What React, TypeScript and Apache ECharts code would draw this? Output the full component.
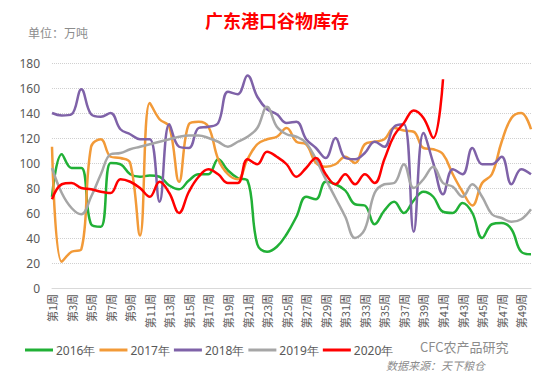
import React, { useEffect, useRef } from "react";
import * as echarts from "echarts";

const weeks: string[] = Array.from({ length: 50 }, (_, i) => `第${i + 1}周`);

const y2016 = [73, 107, 96, 96, 51, 49, 100, 99, 91, 89, 90, 89, 82, 79, 86, 91, 91, 103, 94, 88, 86, 35, 29, 33, 43, 57, 73, 71, 85, 83, 78, 67, 66, 51, 62, 69, 60, 70, 77, 73, 61, 60, 68, 60, 40, 51, 52, 47, 29, 27];
const y2017 = [113, 21, 29, 31, 113, 119, 105, 104, 100, 42, 148, 135, 129, 85, 131, 133, 129, 103, 91, 87, 103, 115, 119, 121, 128, 117, 115, 100, 97, 99, 105, 100, 115, 117, 119, 128, 126, 125, 112, 111, 107, 91, 77, 66, 84, 91, 117, 136, 140, 127];
const y2018 = [140, 138, 139, 159, 139, 137, 140, 127, 123, 119, 119, 69, 131, 113, 112, 128, 129, 132, 157, 155, 170, 153, 143, 139, 132, 133, 119, 112, 104, 120, 104, 103, 108, 117, 113, 129, 131, 45, 124, 100, 75, 95, 91, 112, 99, 99, 105, 83, 95, 91];
const y2019 = [96, 76, 64, 59, 73, 91, 107, 108, 111, 113, 115, 117, 119, 121, 122, 122, 120, 117, 113, 117, 121, 128, 145, 129, 123, 121, 116, 103, 87, 72, 57, 40, 47, 76, 83, 84, 99, 80, 87, 97, 84, 81, 73, 83, 73, 59, 56, 53, 55, 63];
const y2020 = [71, 83, 84, 80, 79, 77, 76, 87, 85, 80, 73, 85, 76, 60, 77, 89, 95, 91, 84, 84, 103, 99, 109, 105, 99, 89, 96, 104, 91, 83, 91, 83, 91, 84, 103, 122, 132, 142, 136, 120, 167];

const seriesNames = ["2016年", "2017年", "2018年", "2019年", "2020年"];
const seriesData = [y2016, y2017, y2018, y2019, y2020];
const seriesColors = ["#21b036", "#f29a38", "#7f62a8", "#a6a6a6", "#ff0000"];

export default function App() {
  const ref = useRef<HTMLDivElement>(null);
  useEffect(() => {
    if (!ref.current) return;
    const chart = echarts.init(ref.current, undefined, { renderer: "svg" });
    chart.setOption({
      animation: false,
      backgroundColor: "#ffffff",
      title: {
        text: "广东港口谷物库存",
        left: "center",
        top: 6,
        textStyle: { color: "#ff0000", fontSize: 18, fontWeight: "bold", fontFamily: "Noto Sans CJK SC" },
      },
      legend: {
        bottom: 14,
        left: 20,
        itemWidth: 28,
        itemHeight: 3,
        itemGap: 4,
        icon: "rect",
        textStyle: { color: "#595959", fontSize: 12, fontFamily: "Noto Sans", padding: [0, 0, 0, -2] },
        data: seriesNames,
      },
      graphic: [
        { type: "text", left: 28, top: 26, style: { text: "单位：万吨", fill: "#8c8c8c", fontSize: 12, fontFamily: "Noto Sans CJK SC" } },
        { type: "text", left: 420, top: 340, style: { text: "CFC农产品研究", fill: "#8c8c8c", fontSize: 13, fontFamily: "Noto Sans CJK SC" } },
        { type: "text", left: 386, top: 359, style: { text: "数据来源：天下粮仓", fill: "#8c8c8c", fontSize: 11, fontStyle: "italic", fontFamily: "Noto Sans CJK SC" } },
      ],
      grid: { left: 52, right: 23, top: 63, bottom: 87 },
      xAxis: {
        type: "category",
        data: weeks,
        boundaryGap: false,
        axisLine: { lineStyle: { color: "#d9d9d9" } },
        axisTick: { show: false },
        axisLabel: { interval: 1, rotate: 90, color: "#595959", fontSize: 11, fontFamily: "Noto Sans CJK SC", margin: 6 },
      },
      yAxis: {
        type: "value",
        min: 0,
        max: 180,
        interval: 20,
        axisLine: { show: false },
        axisTick: { show: false },
        axisLabel: { color: "#595959", fontSize: 12, fontFamily: "Noto Sans", margin: 12 },
        splitLine: { lineStyle: { color: "#d0d0d0", type: "dotted" } },
      },
      series: seriesNames.map((n, i) => ({
        name: n,
        type: "line",
        data: seriesData[i],
        smooth: 0.4,
        symbol: "none",
        lineStyle: { color: seriesColors[i], width: 2.5 },
        itemStyle: { color: seriesColors[i] },
        z: i + 2,
      })),
    });
    return () => chart.dispose();
  }, []);
  return <div ref={ref} style={{ width: 554, height: 375, position: "absolute", left: 0, top: 0 }} />;
}
